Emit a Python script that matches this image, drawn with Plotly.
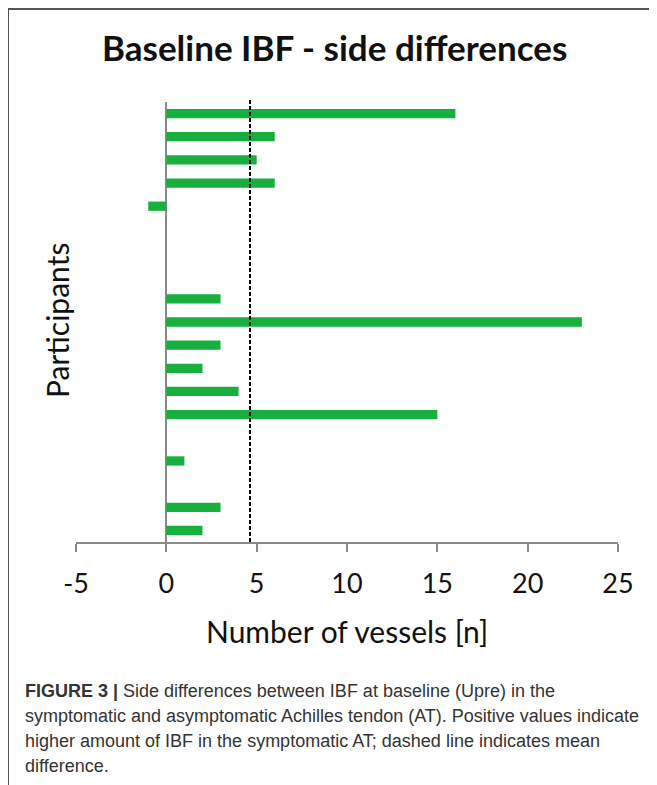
import plotly.graph_objects as go
import numpy as np

# Data
participants = [f"P{i}" for i in range(1, 20)]
differences = [16, 6, 5, 6, -1, 0, 0, 0, 3, 23, 3, 2, 4, 15, 0, 1, 0, 3, 2]
x_ticks = [-5, 0, 5, 10, 15, 20, 25]

title_text = "Baseline IBF - side differences"
x_title = "Number of vessels [n]"
y_title = "Participants"
caption_lines = [
    "<b>FIGURE 3 |</b> Side differences between IBF at baseline (Upre) in the",
    "symptomatic and asymptomatic Achilles tendon (AT). Positive values indicate",
    "higher amount of IBF in the symptomatic AT; dashed line indicates mean",
    "difference.",
]

mean_diff = float(np.mean(differences))

OFF = 8  # page body margin
W, H = 657 - OFF, 785 - OFF
L, T = 76 - OFF, 102 - OFF
PW, PH = 542, 440
R = W - L - PW
B = H - T - PH


def px_x(px):
    return (px - OFF - L) / PW


def px_y(py):
    return (T + PH - (py - OFF)) / PH


fig = go.Figure()
fig.add_trace(go.Bar(
    y=list(range(len(differences))),
    x=differences,
    orientation="h",
    width=0.4,
    marker=dict(color="#17B03C", line=dict(width=0)),
    hoverinfo="x",
))

fig.update_layout(
    width=W, height=H,
    margin=dict(l=L, r=R, t=T, b=B),
    paper_bgcolor="white", plot_bgcolor="white",
    showlegend=False,
    font=dict(family="Lato, sans-serif", color="#111"),
    xaxis=dict(
        range=[-5, 25], tickvals=x_ticks, ticktext=[str(v) for v in x_ticks],
        showgrid=False, showline=True, linecolor="#8a8a8a", linewidth=1.5,
        ticks="outside", ticklen=8, tickcolor="#8a8a8a", tickwidth=1.5,
        zeroline=True, zerolinecolor="#8a8a8a", zerolinewidth=2,
        tickfont=dict(size=27, family="Lato, sans-serif", color="#111"),
        ticklabelstandoff=9,
    ),
    yaxis=dict(
        range=[18.5, -0.5], showticklabels=False, showgrid=False,
        zeroline=False, showline=False, ticks="",
    ),
)

# mean dashed line
fig.add_shape(type="line", xref="x", yref="paper", x0=mean_diff, x1=mean_diff,
              y0=0, y1=px_y(100), line=dict(color="black", width=2, dash="4px,2px"))

# border lines (top and left)
fig.add_shape(type="line", xref="paper", yref="paper", x0=px_x(8), x1=px_x(670),
              y0=px_y(9), y1=px_y(9), line=dict(color="#555", width=2))
fig.add_shape(type="line", xref="paper", yref="paper", x0=px_x(8), x1=px_x(8),
              y0=px_y(9), y1=px_y(800), line=dict(color="#555", width=2))

# title
fig.add_annotation(text=f"<b>{title_text}</b>", xref="paper", yref="paper",
                   x=px_x(334), y=px_y(47), xanchor="center", yanchor="middle",
                   showarrow=False, font=dict(size=35, family="Lato, sans-serif", color="#111"))
# x title
fig.add_annotation(text=x_title, xref="paper", yref="paper",
                   x=px_x(347), y=px_y(631), xanchor="center", yanchor="middle",
                   showarrow=False, font=dict(size=30, family="Lato, sans-serif", color="#111"))
# y title
fig.add_annotation(text=y_title, xref="paper", yref="paper", textangle=-90,
                   x=px_x(57), y=px_y(321), xanchor="center", yanchor="middle",
                   showarrow=False, font=dict(size=30, family="Lato, sans-serif", color="#111"))

# caption
cap_y = [691, 716, 741, 766]
for line, yy in zip(caption_lines, cap_y):
    fig.add_annotation(text=line, xref="paper", yref="paper",
                       x=px_x(23), y=px_y(yy), xanchor="left", yanchor="middle",
                       showarrow=False, align="left",
                       font=dict(size=18, family="Liberation Sans, Arial, sans-serif", color="#333"))

fig.write_html("out.html")
